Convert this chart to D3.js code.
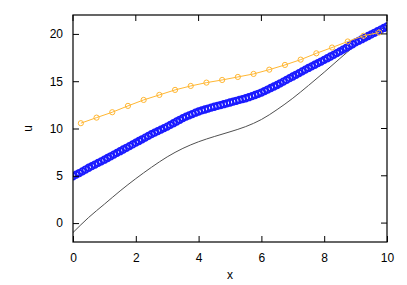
<!DOCTYPE html>
<html>
<head>
<meta charset="utf-8">
<script src="https://cdn.jsdelivr.net/npm/d3@7"></script>
<style>
  body { margin: 0; background: #fff; overflow: hidden; }
  svg { display: block; }
</style>
</head>
<body>
<svg id="chart"></svg>
<script>
"use strict";

// exact solution (thin dark line)
const exactX = [0, 0.5, 1, 1.5, 2, 2.5, 3, 3.5, 4, 4.5, 5, 5.5, 6, 6.5, 7, 7.5, 8, 8.5, 9, 9.5, 10];
const exactU = [-1.0, 0.6, 2.0, 3.4, 4.7, 5.9, 7.0, 7.9, 8.6, 9.15, 9.65, 10.2, 10.95, 12.0, 13.2, 14.55, 15.95, 17.4, 18.8, 19.95, 20.8];

// fine solution (dense blue circles), x = 0, 0.1, ..., 10
const fineU = [
    4.95, 5.12, 5.29, 5.47, 5.66, 5.85, 6.02, 6.19, 6.36, 6.53,
    6.70, 6.88, 7.06, 7.24, 7.42, 7.60, 7.78, 7.96, 8.14, 8.32,
    8.50, 8.68, 8.86, 9.04, 9.22, 9.40, 9.56, 9.72, 9.88, 10.04,
    10.20, 10.38, 10.56, 10.74, 10.92, 11.10, 11.25, 11.39, 11.53, 11.67,
    11.80, 11.91, 12.01, 12.11, 12.21, 12.30, 12.39, 12.48, 12.57, 12.66,
    12.75, 12.84, 12.93, 13.02, 13.11, 13.20, 13.31, 13.42, 13.54, 13.67,
    13.80, 13.96, 14.12, 14.28, 14.44, 14.60, 14.78, 14.96, 15.14, 15.32,
    15.50, 15.68, 15.86, 16.04, 16.22, 16.40, 16.57, 16.74, 16.91, 17.08,
    17.25, 17.43, 17.61, 17.79, 17.97, 18.15, 18.34, 18.53, 18.72, 18.91,
    19.10, 19.27, 19.44, 19.61, 19.78, 19.95, 20.12, 20.29, 20.46, 20.63,
    20.80
];

// coarse solution (orange line with open circles)
const coarseX = [0.25, 0.75, 1.25, 1.75, 2.25, 2.75, 3.25, 3.75, 4.25, 4.75,
                 5.25, 5.75, 6.25, 6.75, 7.25, 7.75, 8.25, 8.75, 9.25, 9.75];
const coarseU = [10.56, 11.15, 11.72, 12.39, 13.02, 13.55, 14.08, 14.5, 14.85, 15.13,
                 15.45, 15.77, 16.22, 16.72, 17.28, 17.95, 18.56, 19.2, 19.8, 20.15];

const xTicks = [0, 2, 4, 6, 8, 10];
const yTicks = [0, 5, 10, 15, 20];

const width = 407, height = 285;
const margin = {top: 15, right: 20, bottom: 43, left: 73};
const innerWidth = width - margin.left - margin.right;
const innerHeight = height - margin.top - margin.bottom;
const fontFamily = '"Liberation Sans", Arial, sans-serif';

const svg = d3.select('#chart')
    .attr('width', width)
    .attr('height', height)
    .attr('font-family', fontFamily)
    .attr('font-size', 12);

const x = d3.scaleLinear().domain([0, 10]).range([0, innerWidth]);
const y = d3.scaleLinear().domain([-2, 22]).range([innerHeight, 0]);

const g = svg.append('g')
    .attr('transform', `translate(${margin.left},${margin.top})`);

g.append('clipPath').attr('id', 'clip')
    .append('rect').attr('width', innerWidth).attr('height', innerHeight);

const plot = g.append('g').attr('clip-path', 'url(#clip)');

// exact
plot.append('path')
    .datum(exactX.map((d, i) => [d, exactU[i]]))
    .attr('fill', 'none')
    .attr('stroke', '#505050')
    .attr('stroke-width', 1)
    .attr('d', d3.line().x(d => x(d[0])).y(d => y(d[1])).curve(d3.curveMonotoneX));

// fine
plot.append('g').selectAll('circle')
    .data(fineU.map((u, i) => [i / 10, u]))
    .enter()
    .append('circle')
    .attr('cx', d => x(d[0]))
    .attr('cy', d => y(d[1]))
    .attr('r', 3.2)
    .attr('fill', 'none')
    .attr('stroke', '#1a1aff')
    .attr('stroke-width', 1.9);

// coarse
const coarse = coarseX.map((d, i) => [d, coarseU[i]]);
plot.append('path')
    .datum(coarse)
    .attr('fill', 'none')
    .attr('stroke', '#ffb733')
    .attr('stroke-width', 1)
    .attr('d', d3.line().x(d => x(d[0])).y(d => y(d[1])));

plot.append('g').selectAll('circle')
    .data(coarse)
    .enter()
    .append('circle')
    .attr('cx', d => x(d[0]))
    .attr('cy', d => y(d[1]))
    .attr('r', 2.6)
    .attr('fill', 'none')
    .attr('stroke', '#ffb733')
    .attr('stroke-width', 1);

// axes, ticks pointing inward on all four sides
const tickLen = 6;
g.append('g')
    .attr('transform', `translate(0,${innerHeight})`)
    .call(d3.axisBottom(x).tickValues(xTicks).tickSizeInner(-tickLen).tickSizeOuter(0).tickPadding(tickLen + 5));
g.append('g')
    .call(d3.axisLeft(y).tickValues(yTicks).tickSizeInner(-tickLen).tickSizeOuter(0).tickPadding(tickLen + 4));

// mirrored ticks (no labels)
const mirror = g.append('g');
mirror.selectAll('line.top').data(xTicks)
    .enter().append('line')
    .attr('x1', d => x(d)).attr('x2', d => x(d))
    .attr('y1', 0).attr('y2', tickLen)
    .attr('stroke', '#000');
mirror.selectAll('line.right').data(yTicks)
    .enter().append('line')
    .attr('x1', innerWidth).attr('x2', innerWidth - tickLen)
    .attr('y1', d => y(d)).attr('y2', d => y(d))
    .attr('stroke', '#000');

g.selectAll('.domain').remove();
g.selectAll('.tick line').attr('stroke', '#000');
g.selectAll('.tick').attr('font-size', null);
g.selectAll('g').filter(function() { return this.hasAttribute('font-size'); })
    .attr('font-size', 12)
    .attr('font-family', fontFamily);
g.selectAll('.tick text').attr('fill', '#000');

g.append('rect')
    .attr('width', innerWidth)
    .attr('height', innerHeight)
    .attr('fill', 'none')
    .attr('stroke', '#000')
    .attr('stroke-width', 1.2);

// axis labels
svg.append('text')
    .attr('x', margin.left + innerWidth / 2)
    .attr('y', 279)
    .attr('text-anchor', 'middle')
    .text('x');

svg.append('text')
    .attr('transform', `translate(32,${margin.top + innerHeight / 2}) rotate(-90)`)
    .attr('text-anchor', 'middle')
    .text('u');
</script>
</body>
</html>
